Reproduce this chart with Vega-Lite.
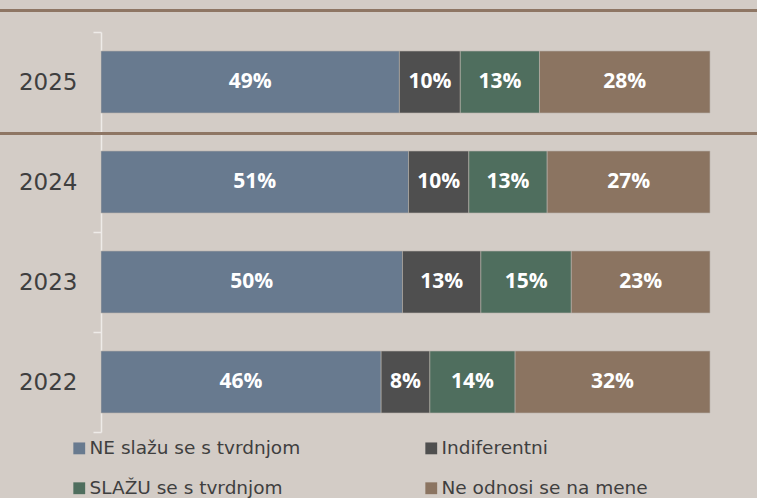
{
  "$schema": "https://vega.github.io/schema/vega-lite/v6.json",
  "width": 609,
  "height": 400,
  "autosize": {"type": "none"},
  "padding": {"left": 101, "top": 32, "right": 47, "bottom": 66},
  "background": "#d3ccc6",
  "config": {"view": {"stroke": null}},
  "data": {
    "values": [
      {"year": "2025", "cat": "NE slažu se s tvrdnjom", "k": 1, "value": 0.49},
      {"year": "2025", "cat": "Indiferentni", "k": 2, "value": 0.10},
      {"year": "2025", "cat": "SLAŽU se s tvrdnjom", "k": 3, "value": 0.13},
      {"year": "2025", "cat": "Ne odnosi se na mene", "k": 4, "value": 0.28},
      {"year": "2024", "cat": "NE slažu se s tvrdnjom", "k": 1, "value": 0.51},
      {"year": "2024", "cat": "Indiferentni", "k": 2, "value": 0.10},
      {"year": "2024", "cat": "SLAŽU se s tvrdnjom", "k": 3, "value": 0.13},
      {"year": "2024", "cat": "Ne odnosi se na mene", "k": 4, "value": 0.27},
      {"year": "2023", "cat": "NE slažu se s tvrdnjom", "k": 1, "value": 0.50},
      {"year": "2023", "cat": "Indiferentni", "k": 2, "value": 0.13},
      {"year": "2023", "cat": "SLAŽU se s tvrdnjom", "k": 3, "value": 0.15},
      {"year": "2023", "cat": "Ne odnosi se na mene", "k": 4, "value": 0.23},
      {"year": "2022", "cat": "NE slažu se s tvrdnjom", "k": 1, "value": 0.46},
      {"year": "2022", "cat": "Indiferentni", "k": 2, "value": 0.08},
      {"year": "2022", "cat": "SLAŽU se s tvrdnjom", "k": 3, "value": 0.14},
      {"year": "2022", "cat": "Ne odnosi se na mene", "k": 4, "value": 0.32}
    ]
  },
  "encoding": {
    "y": {
      "field": "year",
      "type": "nominal",
      "sort": ["2025", "2024", "2023", "2022"],
      "scale": {"paddingInner": 0, "paddingOuter": 0},
      "axis": {
        "title": null,
        "labelFont": "DejaVu Sans",
        "labelFontSize": 23,
        "labelColor": "#3f3f3f",
        "labelPadding": 16,
        "tickBand": "extent",
        "tickSize": 8,
        "tickColor": "#eeebe8",
        "domainColor": "#eeebe8",
        "domainWidth": 1.5,
        "tickWidth": 1.5
      }
    }
  },
  "layer": [
    {
      "mark": {"type": "bar", "height": {"band": 0.62}, "strokeWidth": 0.6, "stroke": "#b9b3ad"},
      "encoding": {
        "x": {"field": "value", "type": "quantitative", "stack": "normalize", "scale": {"domain": [0, 1]}, "axis": null},
        "order": {"field": "k", "type": "quantitative"},
        "color": {
          "field": "cat",
          "type": "nominal",
          "scale": {
            "domain": ["NE slažu se s tvrdnjom", "Indiferentni", "SLAŽU se s tvrdnjom", "Ne odnosi se na mene"],
            "range": ["#687a8f", "#4f4f4f", "#4f6e5e", "#8b7461"]
          },
          "legend": {
            "orient": "none",
            "legendX": -31,
            "legendY": 407,
            "direction": "horizontal",
            "columns": 2,
            "title": null,
            "symbolType": "square",
            "symbolSize": 140,
            "symbolStrokeWidth": 0,
            "labelFont": "DejaVu Sans",
            "labelFontSize": 18.5,
            "labelColor": "#3f3f3f",
            "labelOffset": 1,
            "labelLimit": 400,
            "columnPadding": 121,
            "rowPadding": 21
          }
        }
      }
    },
    {
      "mark": {"type": "text", "font": "Open Sans", "fontWeight": "bold", "fontSize": 21, "color": "white", "baseline": "middle"},
      "encoding": {
        "x": {"field": "value", "type": "quantitative", "stack": "normalize", "bandPosition": 0.5},
        "order": {"field": "k", "type": "quantitative"},
        "detail": {"field": "cat", "type": "nominal"},
        "text": {"field": "value", "type": "quantitative", "format": ".0%"}
      }
    },
    {
      "data": {"values": [{}]},
      "mark": {"type": "rule", "color": "#8e7664", "strokeWidth": 3, "yOffset": -71.5},
      "encoding": {
        "y": {"datum": "2025", "type": "nominal"},
        "x": {"datum": -0.17},
        "x2": {"datum": 1.08}
      }
    },
    {
      "data": {"values": [{}]},
      "mark": {"type": "rule", "color": "#8e7664", "strokeWidth": 3, "yOffset": 51.5},
      "encoding": {
        "y": {"datum": "2025", "type": "nominal"},
        "x": {"datum": -0.17},
        "x2": {"datum": 1.08}
      }
    }
  ]
}
